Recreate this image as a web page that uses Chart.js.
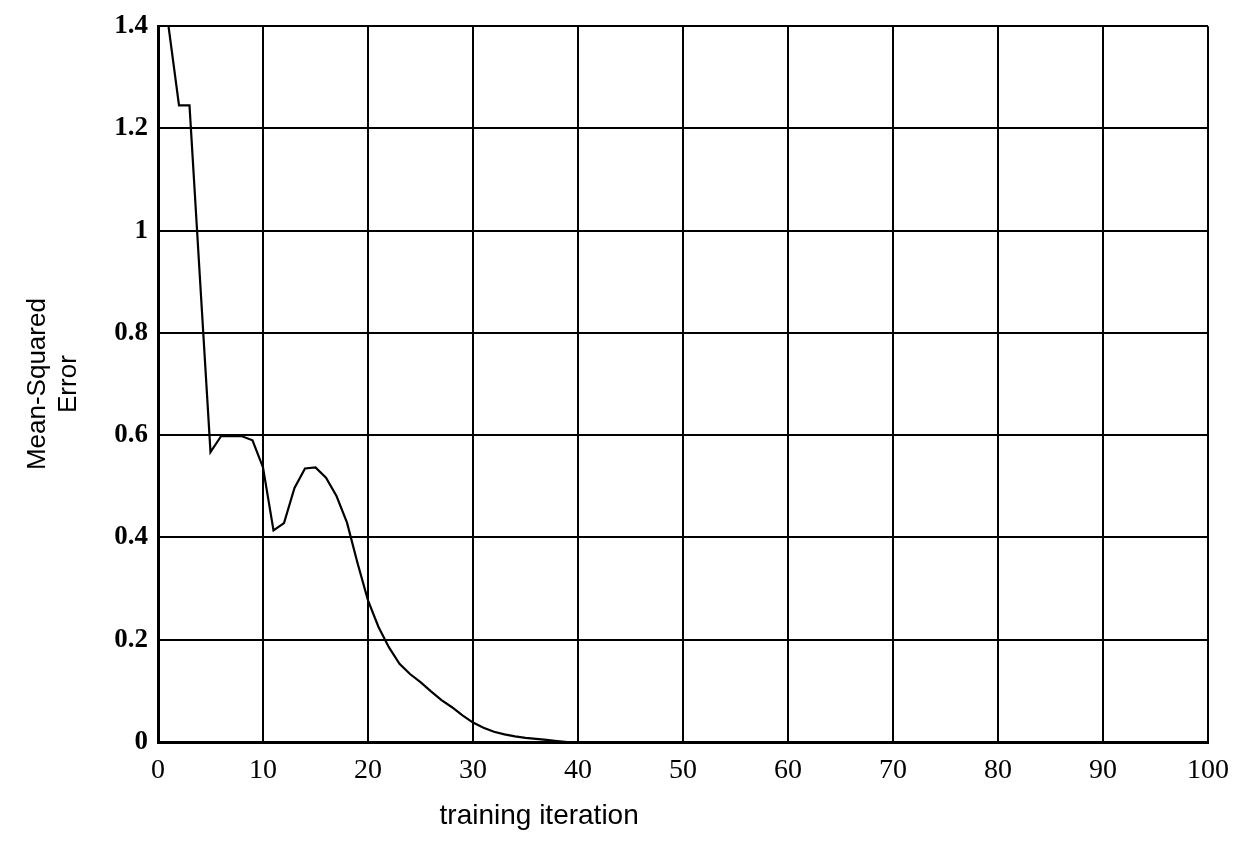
<!DOCTYPE html>
<html>
<head>
<meta charset="utf-8">
<script src="https://cdn.jsdelivr.net/npm/chart.js@4.4.1/dist/chart.umd.min.js"></script>
<style>
  html, body { margin: 0; padding: 0; background: #fff; }
  #wrap { width: 1243px; height: 852px; }
</style>
</head>
<body>
<div id="wrap"><canvas id="myChart" width="1243" height="852"></canvas></div>
<script>
// training iteration vs mean-squared error
const iterations = [1, 2, 3, 4, 5, 6, 7, 8, 9, 10,
    11, 12, 13, 14, 15, 16, 17, 18, 19, 20,
    21, 22, 23, 24, 25, 26, 27, 28, 29, 30,
    31, 32, 33, 34, 35, 36, 37, 38, 39];
const mse = [1.40, 1.245, 1.245, 0.905, 0.567, 0.598, 0.598, 0.598, 0.590, 0.537,
    0.414, 0.428, 0.497, 0.535, 0.537, 0.517, 0.481, 0.429, 0.350, 0.277,
    0.225, 0.185, 0.153, 0.133, 0.117, 0.099, 0.082, 0.068, 0.052, 0.038,
    0.028, 0.020, 0.015, 0.011, 0.008, 0.006, 0.004, 0.002, 0.0];
const xTitle = "training iteration";
const yTitle = ["Mean-Squared", "Error"];

const points = iterations.map((it, i) => ({x: it, y: mse[i]}));

// x axis title sits left of centre in the original, so draw it by hand
const xTitlePlugin = {
    id: "xTitle",
    afterDraw(chart) {
        const {ctx, chartArea} = chart;
        ctx.save();
        ctx.font = "28px 'Liberation Sans', Arial, sans-serif";
        ctx.fillStyle = "#000";
        ctx.textAlign = "center";
        ctx.textBaseline = "middle";
        const cx = chartArea.left + (chartArea.right - chartArea.left) * 0.363;
        ctx.fillText(xTitle, cx, chartArea.bottom + 74);
        ctx.restore();
    }
};

const ctx = document.getElementById("myChart");
new Chart(ctx, {
    type: "line",
    data: {
        datasets: [{
            label: "MSE",
            data: points,
            borderColor: "#000",
            borderWidth: 2.2,
            pointRadius: 0,
            tension: 0,
            fill: false
        }]
    },
    options: {
        responsive: false,
        animation: false,
        layout: {padding: {left: 0, top: 19, right: 35, bottom: 0}},
        plugins: {
            legend: {display: false},
            tooltip: {enabled: false}
        },
        scales: {
            x: {
                type: "linear",
                min: 0,
                max: 100,
                border: {color: "#000", width: 3},
                grid: {color: "#000", lineWidth: 2, drawTicks: false},
                ticks: {
                    stepSize: 10,
                    color: "#000",
                    padding: 12,
                    maxRotation: 0,
                    font: {family: "'Liberation Serif', 'Times New Roman', serif", size: 28}
                },
                afterFit: (s) => { s.height = 110; }
            },
            y: {
                min: 0,
                max: 1.4,
                border: {color: "#000", width: 3},
                grid: {color: "#000", lineWidth: 2, drawTicks: false},
                ticks: {
                    stepSize: 0.2,
                    color: "#000",
                    padding: 10,
                    callback: (v) => String(+v.toFixed(1)),
                    font: {family: "'Liberation Serif', 'Times New Roman', serif", size: 27, weight: "bold"}
                },
                title: {
                    display: true,
                    text: yTitle,
                    color: "#000",
                    padding: {top: 22, bottom: 0},
                    font: {family: "'Liberation Sans', Arial, sans-serif", size: 26}
                },
                afterFit: (s) => { s.width = 158; }
            }
        }
    },
    plugins: [xTitlePlugin]
});
</script>
</body>
</html>
